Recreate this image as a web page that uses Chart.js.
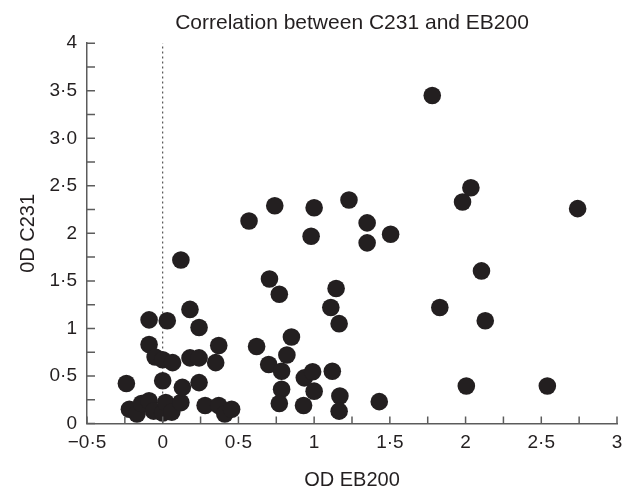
<!DOCTYPE html>
<html>
<head>
<meta charset="utf-8">
<title>Correlation between C231 and EB200</title>
<script src="https://cdn.jsdelivr.net/npm/chart.js@4/dist/chart.umd.min.js"></script>
<style>
    html, body { margin: 0; padding: 0; background: #fff; }
    #wrap { width: 631px; height: 490px; }
</style>
</head>
<body>
<div id="wrap"><canvas id="myChart" width="631" height="490"></canvas></div>
<script>
"use strict";

// values
const odEB200 = [
    -0.24, -0.22, -0.17, -0.14, -0.09, -0.06, 0.00, 0.02, 0.06, 0.12,
    0.13, 0.00, 0.24, 0.28, 0.37, 0.41, 0.455, 0.35, 0.37, 0.24,
    0.18, 0.12, -0.09, 0.03, -0.09, -0.05, 0.00, 0.065, 0.18, 0.24,
    0.57, 0.74, 1.00, 1.23, 1.35, 0.98, 1.35, 1.505, 1.98, 2.035,
    2.74, 1.78, 0.705, 0.77, 1.145, 1.11, 1.83, 2.105, 2.13, 1.165,
    0.62, 0.85, 0.82, 0.70, 0.785, 0.785, 0.77, 0.93, 0.935, 0.99,
    1.00, 1.12, 1.17, 1.165, 1.43, 2.005, 2.54
];
const odC231 = [
    0.42, 0.15, 0.10, 0.21, 0.24, 0.13, 0.11, 0.22, 0.12, 0.22,
    0.38, 0.45, 0.43, 0.19, 0.19, 0.10, 0.15, 0.64, 0.82, 1.01,
    1.20, 1.72, 1.09, 1.08, 0.83, 0.70, 0.67, 0.64, 0.69, 0.69,
    2.13, 2.29, 2.27, 2.35, 2.11, 1.97, 1.90, 1.99, 2.33, 2.48,
    2.26, 3.45, 1.52, 1.36, 1.42, 1.22, 1.22, 1.605, 1.08, 1.05,
    0.81, 0.91, 0.72, 0.62, 0.55, 0.36, 0.21, 0.19, 0.48, 0.545,
    0.34, 0.55, 0.29, 0.13, 0.23, 0.395, 0.395
];
const xTickLabels = ['\u22120\u00b75', '0', '0\u00b75', '1', '1\u00b75', '2', '2\u00b75', '3'];
const yTickLabels = ['0', '0\u00b75', '1', '1\u00b75', '2', '2\u00b75', '3\u00b70', '3\u00b75', '4'];
const refLineX = 0;

const ink = '#231f20';
const axisColor = '#5c5c5c';

const points = odEB200.map(function(x, i){ return {x: x, y: odC231[i]}; });

// inward tick marks every 0.25
const innerTicks = {
    id: 'innerTicks',
    afterDraw: function(chart){
        const ctx = chart.ctx;
        const xs = chart.scales.x;
        const ys = chart.scales.y;
        ctx.save();
        ctx.strokeStyle = axisColor;
        ctx.lineWidth = 1.5;
        ctx.beginPath();
        xs.ticks.forEach(function(t){
            const px = xs.getPixelForValue(t.value);
            ctx.moveTo(px, ys.bottom);
            ctx.lineTo(px, ys.bottom - 7);
        });
        ys.ticks.forEach(function(t){
            const py = ys.getPixelForValue(t.value);
            ctx.moveTo(xs.left, py);
            ctx.lineTo(xs.left + 8, py);
        });
        ctx.stroke();
        ctx.restore();
    }
};

const config = {
    type: 'scatter',
    data: {
        datasets: [{
            label: 'samples',
            data: points,
            backgroundColor: ink,
            borderColor: ink,
            borderWidth: 0,
            pointRadius: 8.8,
            order: 0
        }, {
            label: 'zero',
            type: 'line',
            data: [{x: refLineX, y: 0}, {x: refLineX, y: 4}],
            borderColor: '#333',
            borderWidth: 1,
            borderDash: [2, 3],
            pointRadius: 0,
            fill: false,
            order: 1
        }]
    },
    options: {
        responsive: false,
        animation: false,
        events: [],
        layout: { padding: { left: 0, right: 14, top: 0, bottom: 0 } },
        plugins: {
            legend: { display: false },
            tooltip: { enabled: false },
            title: {
                display: true,
                text: 'Correlation between C231 and EB200',
                fullSize: false,
                color: ink,
                font: { family: 'Liberation Sans', size: 21, weight: 'normal' },
                padding: { top: 11, bottom: 7 }
            }
        },
        scales: {
            x: {
                type: 'linear',
                min: -0.5,
                max: 3,
                afterFit: function(scale){ scale.height = 66.5; },
                grid: { display: false, drawTicks: false },
                border: { display: true, color: axisColor, width: 1.5 },
                ticks: {
                    stepSize: 0.25,
                    autoSkip: false,
                    maxRotation: 0,
                    padding: 8,
                    color: ink,
                    font: { family: 'Liberation Sans', size: 19 },
                    callback: function(v, i){ return i % 2 === 0 ? xTickLabels[i / 2] : ''; }
                },
                title: {
                    display: true,
                    text: 'OD EB200',
                    color: ink,
                    font: { family: 'Liberation Sans', size: 20, lineHeight: 1 },
                    padding: { top: 0, bottom: 0 }
                }
            },
            y: {
                type: 'linear',
                min: 0,
                max: 4,
                afterFit: function(scale){ scale.width = 87; },
                grid: { display: false, drawTicks: false },
                border: { display: true, color: axisColor, width: 1.5 },
                ticks: {
                    stepSize: 0.25,
                    autoSkip: false,
                    padding: 10,
                    color: ink,
                    font: { family: 'Liberation Sans', size: 19 },
                    callback: function(v, i){ return i % 2 === 0 ? yTickLabels[i / 2] : ''; }
                },
                title: {
                    display: true,
                    text: '0D C231',
                    color: ink,
                    font: { family: 'Liberation Sans', size: 20, lineHeight: 1.2 },
                    padding: { top: 16, bottom: 0 }
                }
            }
        }
    },
    plugins: [innerTicks]
};

const myChart = new Chart(document.getElementById('myChart'), config);
</script>
</body>
</html>
